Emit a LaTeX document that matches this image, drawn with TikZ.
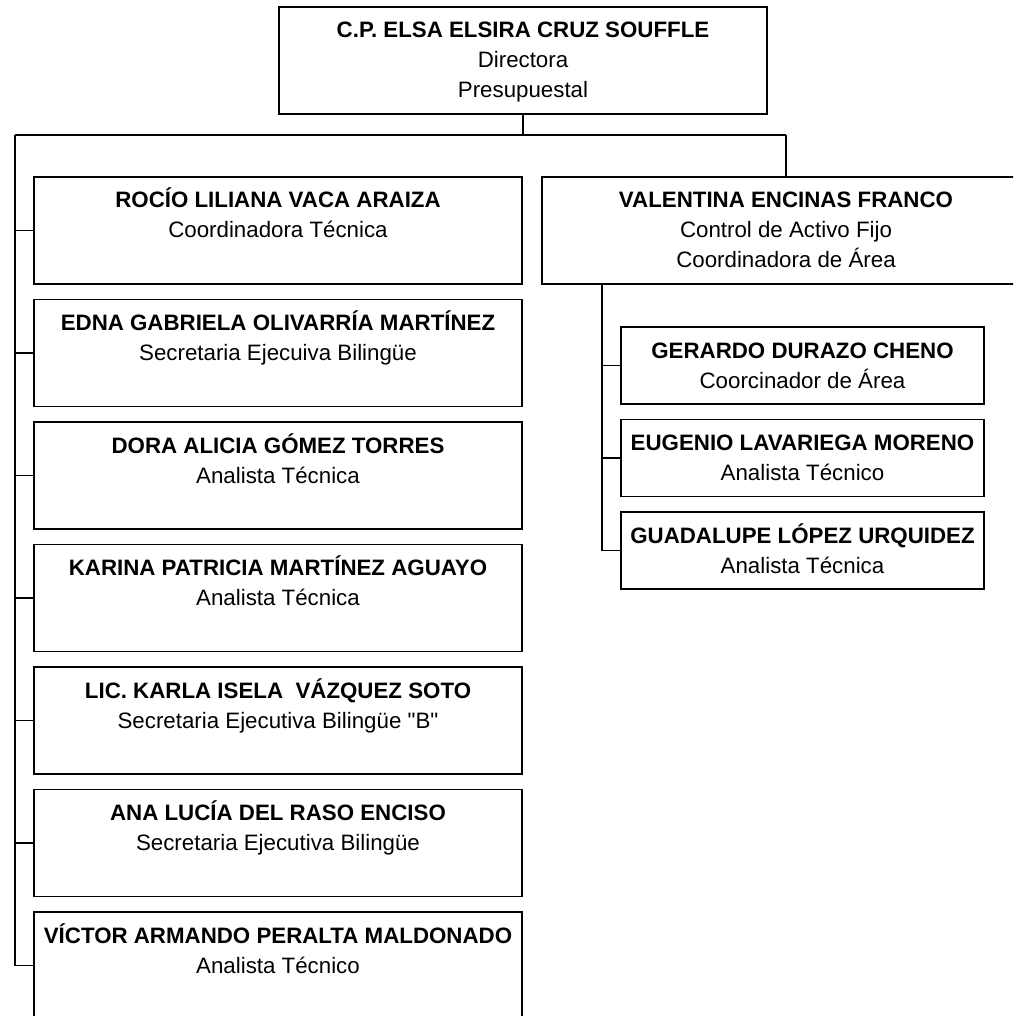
\documentclass[tikz,border=0pt]{standalone}
\usepackage{fontspec}
\setmainfont{Liberation Sans}[Ligatures=TeXOff]
\newcommand{\orgtxt}[3]{\parbox[c][#2][t]{#1}{\centering\fontsize{22.3}{30}\selectfont\rule{0pt}{31pt}#3\par}}
\begin{document}
\begin{tikzpicture}[x=1pt,y=-1pt,
  orgbox/.style={draw=black, line width=1.4pt, inner sep=0pt, outer sep=0pt, rectangle},
  link/.style={draw=black, line width=1.2pt}]
\useasboundingbox (0,0) rectangle (1013,1016);
\clip (0,0) rectangle (1013,1016);
% boxes
\node[orgbox] (top) at (523,60.5) {\orgtxt{488pt}{107pt}{\textbf{C.P. ELSA ELSIRA CRUZ SOUFFLE}\\Directora\\Presupuestal}};
\node[orgbox] (b1) at (278,230.5) {\orgtxt{488pt}{107pt}{\textbf{ROCÍO LILIANA VACA ARAIZA}\\Coordinadora Técnica}};
\node[orgbox] (b2) at (278,353) {\orgtxt{488pt}{107pt}{\textbf{EDNA GABRIELA OLIVARRÍA MARTÍNEZ}\\Secretaria Ejecuiva Bilingüe}};
\node[orgbox] (b3) at (278,475.5) {\orgtxt{488pt}{107pt}{\textbf{DORA ALICIA GÓMEZ TORRES}\\Analista Técnica}};
\node[orgbox] (b4) at (278,598) {\orgtxt{488pt}{107pt}{\textbf{KARINA PATRICIA MARTÍNEZ AGUAYO}\\Analista Técnica}};
\node[orgbox] (b5) at (278,720.5) {\orgtxt{488pt}{107pt}{\textbf{LIC. KARLA ISELA\ \ VÁZQUEZ SOTO}\\Secretaria Ejecutiva Bilingüe "B"}};
\node[orgbox] (b6) at (278,843) {\orgtxt{488pt}{107pt}{\textbf{ANA LUCÍA DEL RASO ENCISO}\\Secretaria Ejecutiva Bilingüe}};
\node[orgbox] (b7) at (278,965.5) {\orgtxt{488pt}{107pt}{\textbf{VÍCTOR ARMANDO PERALTA MALDONADO}\\Analista Técnico}};
\node[orgbox] (val) at (786,230.5) {\orgtxt{488pt}{107pt}{\textbf{VALENTINA ENCINAS FRANCO}\\Control de Activo Fijo\\Coordinadora de Área}};
\node[orgbox] (s1) at (802.5,365.5) {\orgtxt{363pt}{77pt}{\textbf{GERARDO DURAZO CHENO}\\Coorcinador de Área}};
\node[orgbox] (s2) at (802.5,458) {\orgtxt{363pt}{77pt}{\textbf{EUGENIO LAVARIEGA MORENO}\\Analista Técnico}};
\node[orgbox] (s3) at (802.5,550.5) {\orgtxt{363pt}{77pt}{\textbf{GUADALUPE LÓPEZ URQUIDEZ}\\Analista Técnica}};
% junctions
\coordinate (jm) at (523,135);
\coordinate (jl) at (15,135);
\coordinate (jr) at (786,135);
\coordinate (vs) at (602,284);
% connectors
\draw[link] (top.south) -- (jm);
\draw[link] (jl) -- (jr);
\draw[link] (jr) -- (val.north);
\foreach \n in {b1,b2,b3,b4,b5,b6,b7} {\draw[link] (jl) |- (\n.west);}
\foreach \n in {s1,s2,s3} {\draw[link] (vs) |- (\n.west);}
\end{tikzpicture}
\end{document}
